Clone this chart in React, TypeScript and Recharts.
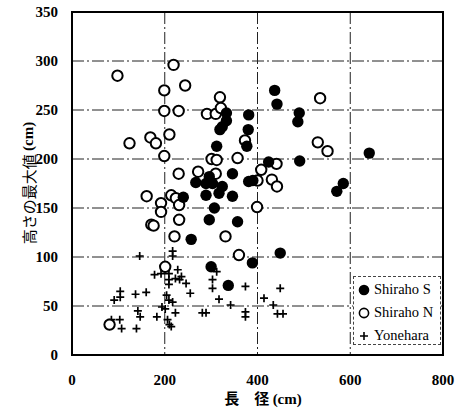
import {
  CartesianGrid,
  ReferenceArea,
  Scatter,
  ScatterChart,
  XAxis,
  YAxis,
} from "recharts";

// 長径 (cm) / 高さの最大値 (cm)
const shirahoSLength = [
  437, 442, 333, 333, 324, 319, 381, 380, 377, 312, 490, 487, 641, 491, 424,
  346, 296, 267, 289, 303, 324, 317, 289, 346, 240, 307, 296, 357, 257, 381,
  390, 585, 571, 449, 389, 300, 337,
];
const shirahoSHeight = [
  270, 256, 247, 239, 233, 230, 245, 230, 213, 213, 247, 238, 206, 198, 197,
  185, 182, 176, 175, 175, 172, 165, 163, 162, 161, 150, 138, 136, 118, 177,
  178, 175, 167, 104, 94, 90, 71,
];

const shirahoNLength = [
  98, 219, 244, 199, 319, 199, 230, 291, 310, 321, 210, 169, 181, 124, 199,
  373, 357, 301, 312, 230, 272, 310, 408, 441, 535, 530, 551, 400, 431, 442,
  399, 214, 161, 192, 192, 224, 231, 171, 176, 231, 221, 331, 360, 201, 81,
];
const shirahoNHeight = [
  285, 296, 275, 270, 263, 249, 249, 246, 246, 252, 225, 222, 216, 216, 203,
  219, 201, 200, 199, 185, 187, 185, 189, 195, 262, 217, 208, 178, 179, 172,
  151, 163, 162, 155, 146, 160, 153, 133, 132, 138, 121, 121, 102, 90, 31,
];

const yoneharaLength = [
  146, 217, 217, 178, 192, 209, 228, 209, 223, 232, 236, 246, 209, 255, 104,
  104, 91, 137, 160, 204, 209, 217, 194, 201, 142, 147, 223, 183, 206, 210,
  214, 103, 107, 85, 139, 312, 303, 303, 317, 342, 374, 281, 289, 374, 374,
  449, 414, 434, 443, 455, 360,
];
const yoneharaHeight = [
  101, 106, 101, 82, 83, 83, 87, 77, 78, 77, 80, 73, 72, 63, 65, 59, 56, 62,
  64, 61, 56, 54, 49, 47, 45, 39, 43, 39, 36, 31, 29, 36, 27, 36, 27, 85, 77,
  68, 57, 51, 70, 43, 43, 44, 39, 68, 58, 51, 42, 42, 102,
];

const xTicks = [0, 200, 400, 600, 800];
const yTicks = [0, 50, 100, 150, 200, 250, 300, 350];

const toPoints = (xs: number[], ys: number[]) =>
  xs.map((x, i) => ({ x, y: ys[i] }));

const shirahoS = toPoints(shirahoSLength, shirahoSHeight);
const shirahoN = toPoints(shirahoNLength, shirahoNHeight);
const yonehara = toPoints(yoneharaLength, yoneharaHeight);

const tickStyle = {
  fontFamily: "'Liberation Serif', serif",
  fontWeight: 700,
  fontSize: 15,
  fill: "#000",
};

const FilledDot = (p: any) => <circle cx={p.cx} cy={p.cy} r={5.7} fill="#000" />;
const OpenDot = (p: any) => (
  <circle cx={p.cx} cy={p.cy} r={5.2} fill="#fff" stroke="#000" strokeWidth={2} />
);
const Cross = (p: any) => (
  <path
    d={`M${p.cx - 4},${p.cy}H${p.cx + 4}M${p.cx},${p.cy - 4}V${p.cy + 4}`}
    stroke="#000"
    strokeWidth={1.7}
  />
);

const legendRow = { display: "flex", alignItems: "center", height: 23 };

export default function App() {
  return (
    <div style={{ position: "absolute", left: 0, top: 0, width: 463, height: 416, background: "#fff" }}>
      <ScatterChart width={463} height={416} margin={{ top: 12, right: 20, bottom: 0, left: 0 }}>
        <CartesianGrid stroke="#222" strokeDasharray="12 3 2 3" strokeWidth={1} />
        <XAxis
          type="number"
          dataKey="x"
          domain={[0, 800]}
          ticks={xTicks}
          height={61}
          tick={tickStyle}
          tickLine={false}
          tickSize={0}
          tickMargin={19}
          axisLine={{ stroke: "#000", strokeWidth: 2 }}
          label={{
            content: () => (
              <text x={263} y={404} textAnchor="middle" fill="#000" fontSize={15} fontWeight={700}>
                <tspan fontFamily="'Noto Sans CJK JP', sans-serif">長　径 </tspan>
                <tspan fontFamily="'Liberation Serif', serif">(cm)</tspan>
              </text>
            ),
          }}
        />
        <YAxis
          type="number"
          dataKey="y"
          domain={[0, 350]}
          ticks={yTicks}
          width={72}
          tick={tickStyle}
          tickLine={false}
          tickSize={0}
          tickMargin={14}
          axisLine={{ stroke: "#000", strokeWidth: 2 }}
          label={{
            content: () => (
              <text
                x={28}
                y={183}
                transform="rotate(-90 28 183)"
                textAnchor="middle"
                dominantBaseline="central"
                fill="#000"
                fontSize={15}
              >
                <tspan fontFamily="'Noto Sans CJK JP', sans-serif">高さの最大値 </tspan>
                <tspan fontFamily="'Liberation Serif', serif" fontWeight={700}>(cm)</tspan>
              </text>
            ),
          }}
        />
        <ReferenceArea x1={0} x2={800} y1={0} y2={350} fill="none" stroke="#000" strokeWidth={2} />
        <Scatter data={yonehara} shape={Cross} isAnimationActive={false} />
        <Scatter data={shirahoN} shape={OpenDot} isAnimationActive={false} />
        <Scatter data={shirahoS} shape={FilledDot} isAnimationActive={false} />
      </ScatterChart>
      <div
        style={{
          position: "absolute",
          left: 353,
          top: 276,
          width: 88,
          height: 69,
          background: "#fff",
          border: "1px dashed #444",
          fontFamily: "'Liberation Serif', serif",
          fontSize: 14.5,
          color: "#000",
          paddingTop: 1,
          boxSizing: "border-box",
        }}
      >
        <div style={legendRow}>
          <svg width={18} height={14}>
            <circle cx={10} cy={7} r={5.3} fill="#000" />
          </svg>
          <span style={{ marginLeft: 2 }}>Shiraho S</span>
        </div>
        <div style={legendRow}>
          <svg width={18} height={14}>
            <circle cx={10} cy={7} r={4.6} fill="#fff" stroke="#000" strokeWidth={1.6} />
          </svg>
          <span style={{ marginLeft: 2 }}>Shiraho N</span>
        </div>
        <div style={legendRow}>
          <svg width={18} height={14}>
            <path d="M6,7H14M10,3V11" stroke="#000" strokeWidth={1.6} />
          </svg>
          <span style={{ marginLeft: 2 }}>Yonehara</span>
        </div>
      </div>
    </div>
  );
}
